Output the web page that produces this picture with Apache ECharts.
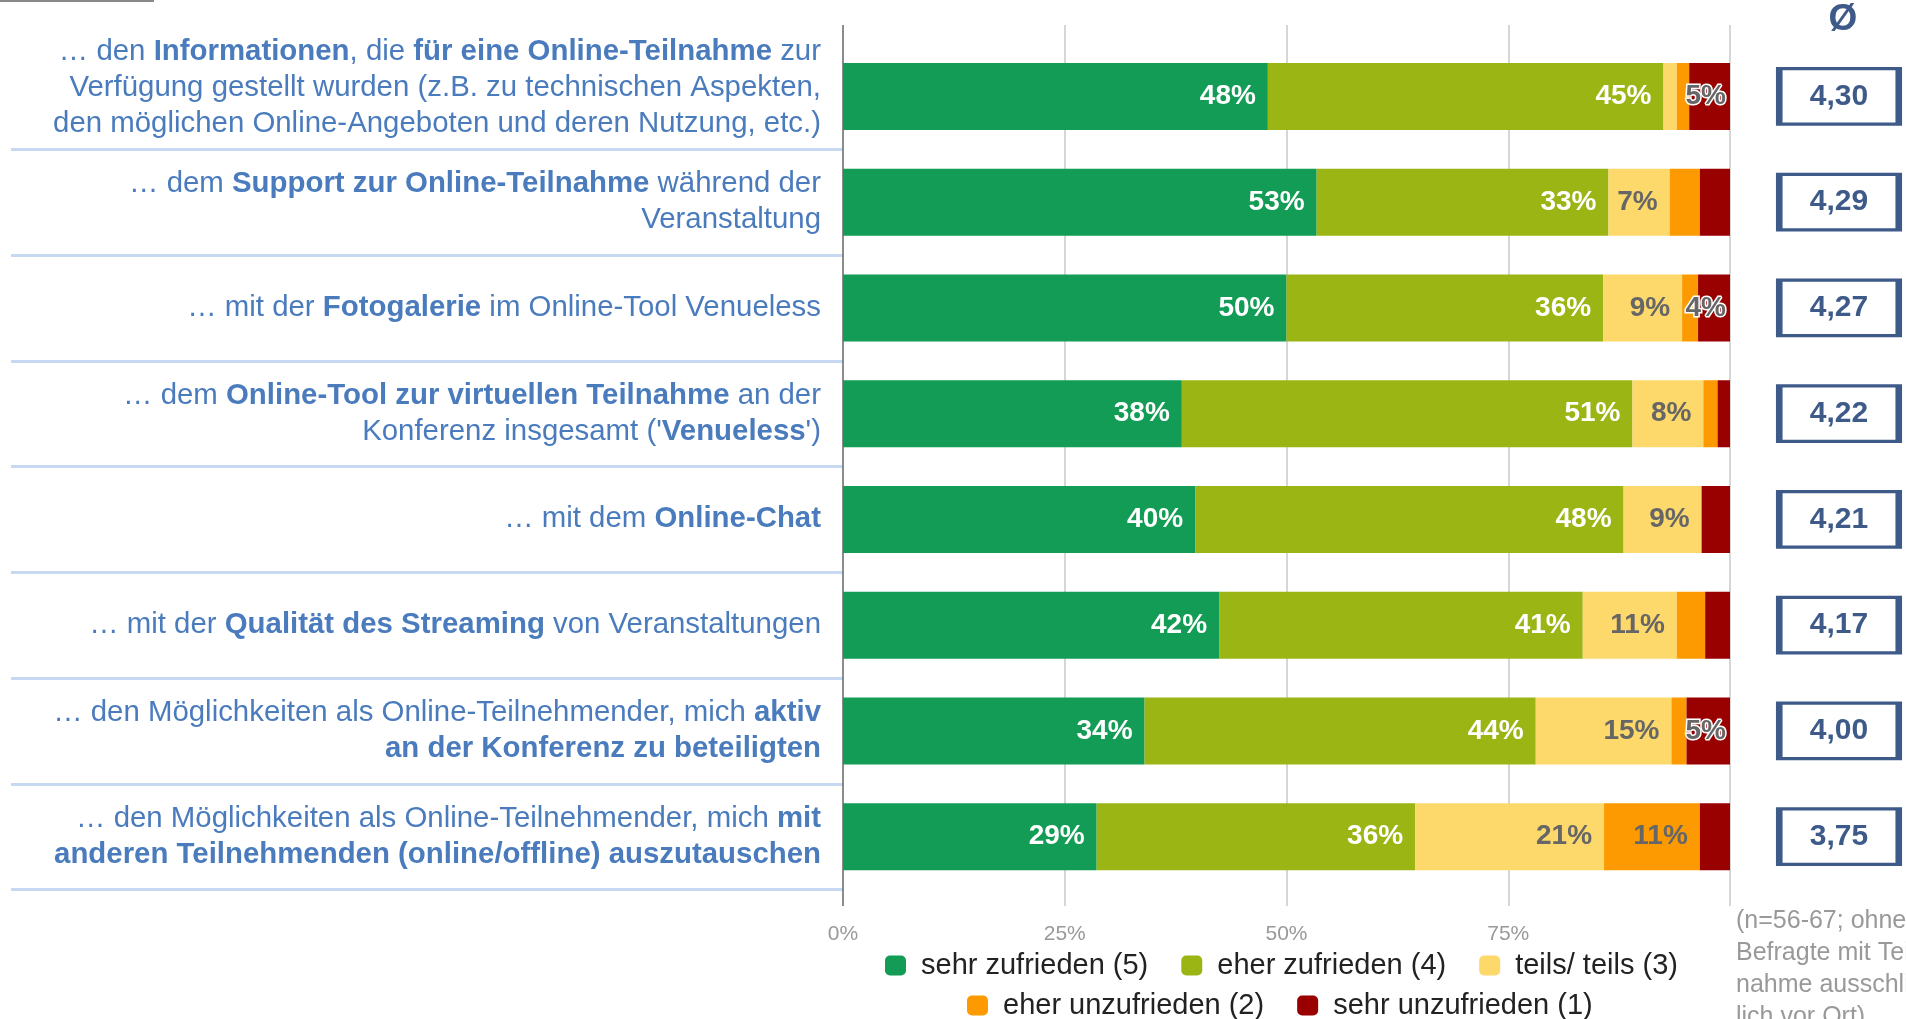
<!DOCTYPE html>
<html>
<head>
<meta charset="utf-8">
<title>Zufriedenheit Online-Teilnahme</title>
<script src="https://cdn.jsdelivr.net/npm/echarts@6/dist/echarts.min.js"></script>
<style>
  html, body { margin: 0; padding: 0; background: #fff; }
  #chart { width: 1906px; height: 1019px; }
</style>
</head>
<body>
<div id="chart"></div>
<script>
// **...** = fett gesetzter Teil der Kategorie
const categories = [
  '… den **Informationen**, die **für eine Online-Teilnahme** zur\nVerfügung gestellt wurden (z.B. zu technischen Aspekten,\nden möglichen Online-Angeboten und deren Nutzung, etc.)',
  '… dem **Support zur Online-Teilnahme** während der\nVeranstaltung',
  '… mit der **Fotogalerie** im Online-Tool Venueless',
  '… dem **Online-Tool zur virtuellen Teilnahme** an der\nKonferenz insgesamt (\'**Venueless**\')',
  '… mit dem **Online-Chat**',
  '… mit der **Qualität des Streaming** von Veranstaltungen',
  '… den Möglichkeiten als Online-Teilnehmender, mich **aktiv\nan der Konferenz zu beteiligten**',
  '… den Möglichkeiten als Online-Teilnehmender, mich **mit\nanderen Teilnehmenden (online/offline) auszutauschen**'
]
const seriesNames = ['sehr zufrieden (5)', 'eher zufrieden (4)', 'teils/ teils (3)', 'eher unzufrieden (2)', 'sehr unzufrieden (1)']
const sehrZufrieden = [47.9, 53.4, 50.0, 38.2, 39.7, 42.4, 34.0, 28.6]
const eherZufrieden = [44.6, 32.9, 35.7, 50.8, 48.3, 41.0, 44.1, 35.9]
const teilsTeils = [1.5, 6.9, 8.9, 8.0, 8.8, 10.6, 15.3, 21.3]
const eherUnzufrieden = [1.4, 3.4, 1.8, 1.6, 0, 3.2, 1.7, 10.8]
const sehrUnzufrieden = [4.6, 3.4, 3.6, 1.4, 3.2, 2.8, 4.9, 3.4]
const averages = [4.30, 4.29, 4.27, 4.22, 4.21, 4.17, 4.00, 3.75]
const footnote = ['(n=56-67; ohne', 'Befragte mit Teil-', 'nahme ausschließ-', 'lich vor Ort)']

const font = 'Liberation Sans, Arial, sans-serif'
const colors = ['#129c55', '#9bb514', '#fdd86b', '#fd9a01', '#990000']
const labelColors = ['#fff', '#fff', '#666', '#666', '#666']
const boxColor = '#3d5a89'
const textBlue = '#4a7bbd'

// "**" umschalten -> rich text {b|..} / {n|..}, auch über Zeilenumbrüche
function toRich (text, index) {
  let bold = false
  const out = text.split('\n').map(function (line) {
    return line.split('**').map(function (part, i) {
      if (i > 0) bold = !bold
      if (!part) return ''
      return '{' + (bold ? 'b' : 'n') + '|' + part + '}'
    }).join('')
  }).join('\n')
  // erste Zeile sitzt im Original etwas höher
  return index === 0 ? out + '\n{s| }' : out
}

const plotTop = 43.5
const plotHeight = 846

const values = [sehrZufrieden, eherZufrieden, teilsTeils, eherUnzufrieden, sehrUnzufrieden]
const barSeries = values.map(function (data, i) {
  return {
    name: seriesNames[i],
    type: 'bar',
    stack: 'total',
    xAxisIndex: 0,
    yAxisIndex: 0,
    barWidth: 67,
    data: data,
    itemStyle: { color: colors[i] },
    label: {
      show: true,
      position: 'insideRight',
      distance: i === 4 ? 4 : 12,
      color: labelColors[i],
      fontFamily: font,
      fontSize: 28,
      fontWeight: 'bold',
      textBorderColor: '#fff',
      textBorderWidth: i === 4 ? 3 : 0,
      formatter: function (p) {
        const v = Math.round(p.value)
        return v >= 4 ? v + '%' : ''
      }
    }
  }
})

const legendBase = {
  padding: 0,
  icon: 'roundRect',
  itemWidth: 21,
  itemHeight: 20,
  itemGap: 33,
  textStyle: { fontFamily: font, fontSize: 29, color: '#222', padding: [0, 0, 0, 10] }
}

const option = {
  animation: false,
  backgroundColor: '#fff',
  title: {
    text: 'Ø',
    left: 1838,
    top: -4,
    textAlign: 'center',
    textStyle: { fontFamily: font, fontSize: 37, fontWeight: 'bold', color: boxColor }
  },
  legend: [
    Object.assign({ data: seriesNames.slice(0, 3), left: 885, top: 951 }, legendBase),
    Object.assign({ data: seriesNames.slice(3), left: 967, top: 991 }, legendBase)
  ],
  grid: [
    { left: 843, right: 176, top: plotTop, height: plotHeight }, // Balken
    { left: 843, right: 176, top: 25, bottom: 113 }, // Gitterlinien
    { left: 11, width: 832, top: plotTop, height: plotHeight }, // Trennlinien links
    { left: 1777, width: 124, top: plotTop, height: plotHeight } // Mittelwerte
  ],
  xAxis: [
    { gridIndex: 0, type: 'value', min: 0, max: 100, show: false },
    {
      gridIndex: 1,
      type: 'value',
      min: 0,
      max: 100,
      interval: 25,
      axisLine: { show: false },
      axisTick: { show: false },
      splitLine: {
        show: true,
        lineStyle: { color: ['#666', '#c8c8c8', '#c8c8c8', '#c8c8c8', '#c8c8c8'], width: 1.5 }
      },
      axisLabel: {
        margin: 18,
        color: '#999',
        fontFamily: font,
        fontSize: 21,
        formatter: function (v) { return v === 100 ? '' : v + '%' }
      }
    },
    { gridIndex: 2, type: 'value', show: false },
    { gridIndex: 3, type: 'category', data: ['Ø'], show: false }
  ],
  yAxis: [
    {
      gridIndex: 0,
      type: 'category',
      data: categories,
      inverse: true,
      axisLine: { show: false },
      axisTick: { show: false },
      axisLabel: {
        interval: 0,
        margin: 22,
        formatter: toRich,
        rich: {
          n: { fontFamily: font, fontSize: 29.4, lineHeight: 36, color: textBlue, align: 'right' },
          b: { fontFamily: font, fontSize: 29.4, lineHeight: 36, color: textBlue, fontWeight: 'bold', align: 'right' },
          s: { fontSize: 1, lineHeight: 17 }
        }
      }
    },
    { gridIndex: 1, type: 'value', show: false },
    {
      gridIndex: 2,
      type: 'category',
      data: categories,
      inverse: true,
      axisLine: { show: false },
      axisTick: { show: false },
      axisLabel: { show: false },
      splitLine: {
        show: true,
        interval: 0,
        showMinLine: false,
        lineStyle: { color: '#c6d9f1', width: 3 }
      }
    },
    { gridIndex: 3, type: 'category', data: categories, inverse: true, show: false }
  ],
  series: barSeries.concat([
    {
      name: 'Mittelwert',
      type: 'scatter',
      xAxisIndex: 3,
      yAxisIndex: 3,
      symbol: 'rect',
      symbolSize: [119.5, 55.5],
      itemStyle: { color: '#fff', borderColor: boxColor, borderWidth: 4.5, opacity: 1 },
      label: {
        show: true,
        position: 'inside',
        color: boxColor,
        fontFamily: font,
        fontSize: 30,
        fontWeight: 'bold',
        formatter: function (p) { return p.value[2].toFixed(2).replace('.', ',') }
      },
      data: averages.map(function (v, i) { return [0, i, v] })
    }
  ]),
  graphic: [
    { type: 'rect', left: 0, top: 0, shape: { width: 154, height: 2 }, style: { fill: '#888' } },
    {
      type: 'text',
      left: 1736,
      top: 905,
      style: { text: footnote.join('\n'), font: '25px ' + font, fill: '#999', lineHeight: 32 }
    }
  ]
}

const myChart = echarts.init(document.getElementById('chart'))
myChart.setOption(option)
</script>
</body>
</html>
